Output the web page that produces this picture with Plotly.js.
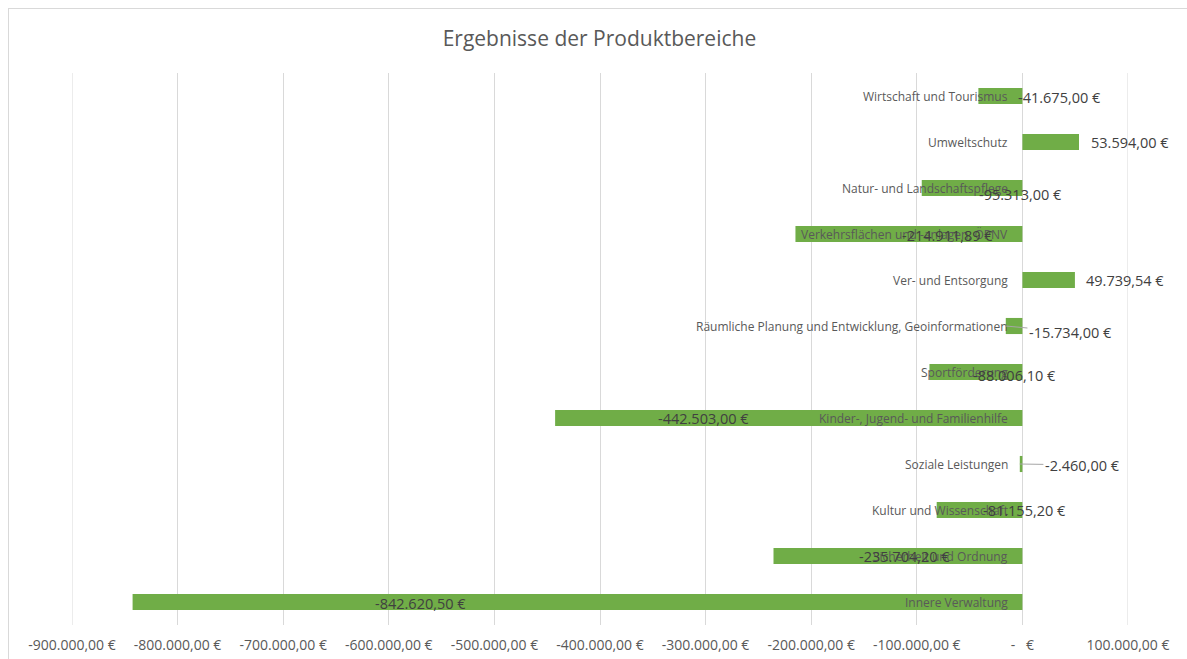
<!DOCTYPE html>
<html>
<head>
<meta charset="utf-8">
<script src="https://cdn.plot.ly/plotly-3.0.1.min.js"></script>
<style>
  body { margin: 0; background: #fff; }
  #plot { position: absolute; left: 0; top: 0; width: 1187px; height: 659px; }
  #frame { position: absolute; left: 8px; top: 8px; width: 1190px; height: 670px;
           border: 1px solid #d9d9d9; pointer-events: none; }
</style>
</head>
<body>
<div id="plot"></div>
<div id="frame"></div>
<script>
// Daten (von unten nach oben, wie im Diagramm)
const categories = [
    "Innere Verwaltung",
    "Sicherheit und Ordnung",
    "Kultur und Wissenschaft",
    "Soziale Leistungen",
    "Kinder-, Jugend- und Familienhilfe",
    "Sportförderung",
    "Räumliche Planung und Entwicklung, Geoinformationen",
    "Ver- und Entsorgung",
    "Verkehrsflächen und -anlagen, ÖPNV",
    "Natur- und Landschaftspflege",
    "Umweltschutz",
    "Wirtschaft und Tourismus"
];
const values = [
    -842620.50, -235704.20, -81155.20, -2460.00, -442503.00, -88006.10,
    -15734.00, 49739.54, -214911.89, -95313.00, 53594.00, -41675.00
];
const tickVals = [-900000, -800000, -700000, -600000, -500000, -400000, -300000, -200000, -100000, 0, 100000];
const tickText = ["-900.000,00 €", "-800.000,00 €", "-700.000,00 €", "-600.000,00 €", "-500.000,00 €",
    "-400.000,00 €", "-300.000,00 €", "-200.000,00 €", "-100.000,00 €", "-   €", "100.000,00 €"];

// Euro-Format wie in Excel
function euro(v) {
    const neg = v < 0;
    const parts = Math.abs(v).toFixed(2).split(".");
    const int = parts[0].replace(/\B(?=(\d{3})+(?!\d))/g, ".");
    return (neg ? "-" : "") + int + "," + parts[1] + " €";
}

// Lage der Datenbeschriftungen: Mitte in Achseneinheiten, Versatz nach unten in px
const labelX = [-570000, -111700, 1900, 56800, -302000, -7600, 45500, 97500, -71000, -1900, 102300, 35000];
const labelDown = [1, 0, 0, 1, 0, 3, 6, 0, 1, 6, 0, 1];
const withLeader = [3, 6];

const xRange = [-900000, 100000];
const toPaper = x => (x - xRange[0]) / (xRange[1] - xRange[0]);

const font = "Open Sans, sans-serif";
const annotations = [];
categories.forEach((c) => {
    annotations.push({
        x: 0, y: c, xref: "x", yref: "y",
        text: c, showarrow: false, xanchor: "right", xshift: -12,
        font: { family: font, size: 12, color: "#595959" }
    });
});
values.forEach((v, i) => {
    const a = {
        y: categories[i], yref: "y",
        text: euro(v),
        font: { family: font, size: 14.5, color: "#404040" }
    };
    if (withLeader.includes(i)) {
        a.xref = "x"; a.x = v;
        a.showarrow = true; a.arrowhead = 0; a.arrowwidth = 1; a.arrowcolor = "#a6a6a6";
        a.axref = "x"; a.ax = labelX[i]; a.ay = labelDown[i];
        a.xanchor = "center";
    } else {
        a.xref = "paper"; a.x = toPaper(labelX[i]);
        a.showarrow = false; a.xanchor = "center"; a.yshift = -labelDown[i];
    }
    annotations.push(a);
});

const data = [{
    type: "bar", orientation: "h",
    x: values, y: categories,
    marker: { color: "#70ad47" },
    hoverinfo: "x+y"
}];

// Gitternetzlinien an den Bereichsgrenzen
const edgeLines = [tickVals[0], tickVals[tickVals.length - 1]].map(t => ({
    type: "line", xref: "x", yref: "paper", x0: t, x1: t, y0: 0, y1: 1,
    line: { color: "#d9d9d9", width: 1 }, layer: "below"
}));

const layout = {
    width: 1187, height: 659,
    margin: { l: 72, r: 59, t: 73, b: 34 },
    paper_bgcolor: "#fff", plot_bgcolor: "#fff",
    title: {
        text: "Ergebnisse der Produktbereiche",
        x: 0.505, xanchor: "center", y: 0.942, yanchor: "middle",
        font: { family: font, size: 21, color: "#595959" }
    },
    bargap: 0.65,
    showlegend: false,
    xaxis: {
        range: xRange,
        tickvals: tickVals, ticktext: tickText,
        showgrid: true, gridcolor: "#d9d9d9", gridwidth: 1,
        zeroline: true, zerolinecolor: "#d9d9d9", zerolinewidth: 1,
        showline: false, ticks: "", ticklabelstandoff: 10,
        tickfont: { family: font, size: 14, color: "#595959" },
        fixedrange: true
    },
    yaxis: {
        type: "category", categoryorder: "array", categoryarray: categories,
        range: [-0.5, 11.5],
        showticklabels: false, showgrid: false, zeroline: false, showline: false, ticks: "",
        fixedrange: true
    },
    shapes: edgeLines,
    annotations: annotations
};

Plotly.newPlot("plot", data, layout, { displayModeBar: false, staticPlot: true });
</script>
</body>
</html>
